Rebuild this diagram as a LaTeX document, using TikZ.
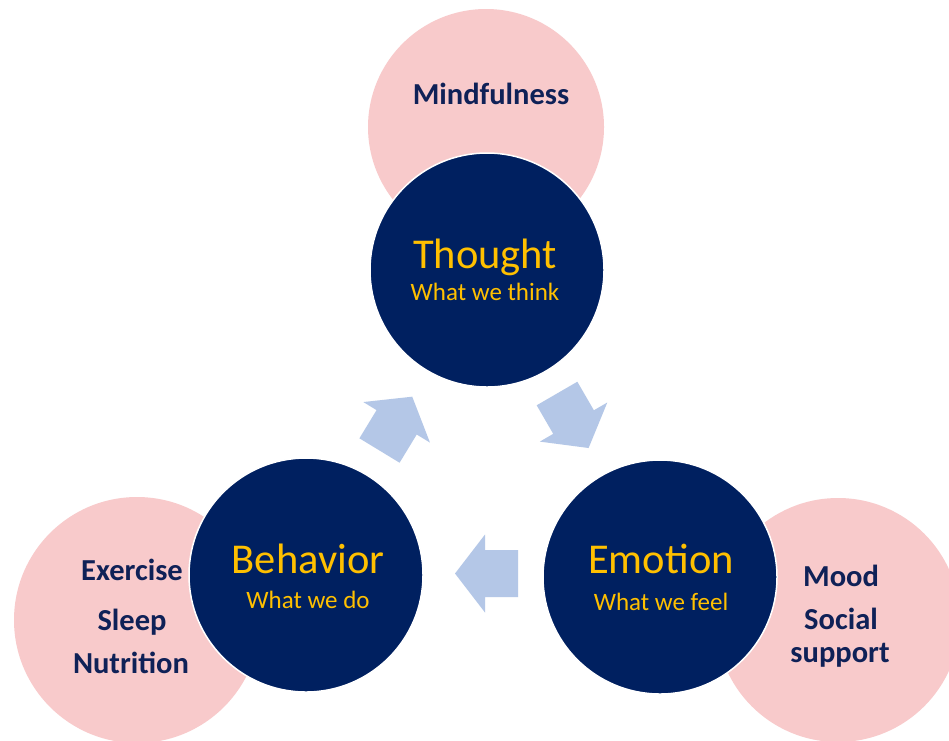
\documentclass[tikz,border=0pt]{standalone}
\usepackage{fontspec}
\setmainfont{Carlito}
\definecolor{navy}{HTML}{002060}
\definecolor{pinkfill}{HTML}{F8CACB}
\definecolor{gold}{HTML}{FFC000}
\definecolor{arrowblue}{HTML}{B4C7E7}
\definecolor{inktext}{HTML}{0F2157}
\begin{document}
\begin{tikzpicture}[x=1pt,y=-1pt,
  pinkcircle/.style={circle,fill=pinkfill,inner sep=0pt},
  navycircle/.style={circle,fill=navy,draw=white,line width=1.5pt,inner sep=0pt,minimum size=234pt},
  titletext/.style={text=gold,anchor=base,font=\fontsize{42.5}{42.5}\selectfont},
  subtext/.style={text=gold,anchor=base,font=\fontsize{25}{25}\selectfont},
  pinktext/.style={text=inktext,anchor=base,font=\bfseries\fontsize{30.5}{30.5}\selectfont},
  blockarrow/.pic={\fill[arrowblue] (0,-23.5) -- (33,-23.5) -- (33,-39) -- (63,0) -- (33,39) -- (33,23.5) -- (0,23.5) -- cycle;}
]
\useasboundingbox[fill=white] (0,0) rectangle (949,740);
\begin{scope}
\clip (0,0) rectangle (949,740);
% pink circles
\node[pinkcircle,minimum size=236pt] (mind) at (486,127) {};
\node[pinkcircle,minimum size=246pt] (body) at (137,620) {};
\node[pinkcircle,minimum size=244pt] (social) at (838,620) {};
% navy circles
\node[navycircle] (thought) at (487,270) {};
\node[navycircle] (behavior) at (306,575) {};
\node[navycircle] (emotion) at (660,577) {};
\end{scope}
% block arrows
\pic[rotate=58.7] at (379.5,450.5) {blockarrow};
\pic[rotate=-59.9] at (557,393.5) {blockarrow};
\pic[rotate=180] at (518,573.5) {blockarrow};
% titles
\node[titletext] (thoughtT) at (485,268.7) {Thought};
\node[subtext] (thoughtS) at (485,300) {What we think};
\node[titletext] (behaviorT) at (308,573) {Behavior};
\node[subtext] (behaviorS) at (308,608) {What we do};
\node[titletext] (emotionT) at (661,573) {Emotion};
\node[subtext] (emotionS) at (661,610) {What we feel};
% pink texts
\node[pinktext] (mindT) at (491,104) {Mindfulness};
\node[pinktext] (ex) at (132,580) {Exercise};
\node[pinktext] (sl) at (132,630) {Sleep};
\node[pinktext] (nu) at (131,673) {Nutrition};
\node[pinktext] (mo) at (841,586) {Mood};
\node[pinktext] (so) at (841,629) {Social};
\node[pinktext] (su) at (840,662) {support};
\end{tikzpicture}
\end{document}
